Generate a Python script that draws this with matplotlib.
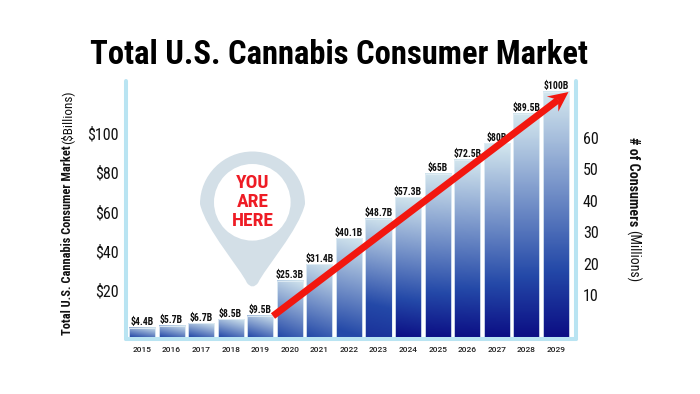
import numpy as np
import matplotlib
matplotlib.use('Agg')
from matplotlib import pyplot as plt
from matplotlib.colors import LinearSegmentedColormap, to_rgb
from matplotlib.patches import Circle, PathPatch, Polygon
from matplotlib.path import Path

years = [2015, 2016, 2017, 2018, 2019, 2020, 2021, 2022, 2023, 2024, 2025, 2026, 2027, 2028, 2029]
value_labels = ['$4.4B', '$5.7B', '$6.7B', '$8.5B', '$9.5B', '$25.3B', '$31.4B', '$40.1B',
                '$48.7B', '$57.3B', '$65B', '$72.5B', '$80B', '$89.5B', '$100B']
# heights as drawn in the picture, they do not follow the labels exactly
bar_heights = [3.7, 4.6, 5.6, 7.3, 8.7, 22.9, 29.7, 40.4, 48.2, 57.0, 66.6, 72.4, 79.0, 91.2, 100.2]

market_ticks = [20, 40, 60, 80, 100]
market_labels = ['$20', '$40', '$60', '$80', '$100']
consumer_ticks = [10, 20, 30, 40, 50, 60]

NARROW = ['Roboto Condensed', 'Roboto', 'DejaVu Sans']
W, H = 700, 394
BAND = '#b9e4f2'
TEXT = '#111111'
RED = '#f2170f'

fig = plt.figure(figsize=(W / 100, H / 100), dpi=100)

# axes box in pixels
left, right, top, bottom = 126, 576, 81, 339
box = [left / W, 1 - bottom / H, (right - left) / W, (bottom - top) / H]

ax = fig.add_axes(box)
ax.set_xlim(2014.46, 2029.68)
ax.set_ylim(-0.82, 104.5)
ax.spines['top'].set_visible(False)
for side in ['left', 'right', 'bottom']:
    ax.spines[side].set_color(BAND)
    ax.spines[side].set_linewidth(2.9)
    ax.spines[side].set_capstyle('round')
ax.set_yticks([])
ax.set_xticks(years)
ax.set_xticklabels(years, fontsize=6, color='#222222', fontfamily='Roboto', fontweight='medium')
ax.tick_params(axis='x', length=0, pad=5.5)

light = np.array(to_rgb('#d3e6ee'))
mid = np.array(to_rgb('#2449a8'))
deep = np.array(to_rgb('#0c0f85'))

xlim, ylim = ax.get_xlim(), ax.get_ylim()
bars = ax.bar(years, bar_heights, width=0.88, facecolor='none', edgecolor='#e2eef5', linewidth=0.6, zorder=2.5)
for bar, label in zip(bars, value_labels):
    x0, w, h = bar.get_x(), bar.get_width(), bar.get_height()
    # tall bars run on into navy at the foot, short ones stop at mid blue
    f = h / 100
    low = mid + (deep - mid) * np.clip((f - 0.42) / 0.15, 0, 1)
    p = max(0.001, 0.27 * np.clip((f - 0.38) / 0.1, 0, 1))
    cmap = LinearSegmentedColormap.from_list('bar', [(0, low), (p, mid), (1, light)])
    gy, gx = np.mgrid[0:1:80j, 0:1:20j]
    tilt = 0.35 * (1 - f) ** 3
    grad = gy * (1 - tilt) + gx * tilt
    ax.imshow(grad, origin='lower', extent=[x0, x0 + w, 0, h], cmap=cmap, vmin=0, vmax=1,
              aspect='auto', zorder=2, interpolation='bilinear')
    ax.text(x0 + w / 2, h + 1.0, label, ha='center', va='baseline', fontsize=7, color=TEXT,
            fontfamily=NARROW, fontweight='bold', zorder=3)
ax.set_xlim(xlim)
ax.set_ylim(ylim)

# left and right scales are not tied to the bars in the source
ax_left = ax.twinx()
ax_left.set_ylim(-4.9, 126.7)
ax_left.yaxis.tick_left()
ax_left.set_yticks(market_ticks)
ax_left.set_yticklabels(market_labels, fontsize=11.5, color=TEXT, fontfamily=NARROW)
ax_left.tick_params(axis='y', length=0, pad=5.5)

ax_right = ax.twinx()
ax_right.set_ylim(-3.97, 78)
ax_right.set_yticks(consumer_ticks)
ax_right.set_yticklabels(consumer_ticks, fontsize=11.5, color=TEXT, fontfamily=NARROW)
ax_right.tick_params(axis='y', length=0, pad=5)

for a in [ax_left, ax_right]:
    for s in a.spines.values():
        s.set_visible(False)

# overlay in pixel coordinates for title, pin and arrow
ov = fig.add_axes([0, 0, 1, 1], zorder=5)
ov.set_xlim(0, W)
ov.set_ylim(H, 0)
ov.axis('off')

ov.text(338.5, 55, 'Total U.S. Cannabis Consumer Market', ha='center', va='center', fontsize=23.5,
        fontweight='bold', fontfamily=NARROW, color='#000000')

ov.text(67.5, 335, 'Total U.S. Cannabis Consumer Market', rotation=90, ha='center', va='bottom',
        fontsize=8.9, fontweight='bold', fontfamily=NARROW, color=TEXT)
ov.text(67.5, 144, '($Billions)', rotation=90, ha='center', va='bottom',
        fontsize=9.5, fontfamily=NARROW, color=TEXT)
ov.text(633, 137, '# of Consumers', rotation=270, ha='center', va='top',
        fontsize=10.2, fontweight='bold', fontfamily=NARROW, color=TEXT)
ov.text(633, 230, '(Millions)', rotation=270, ha='center', va='top',
        fontsize=10, fontfamily=NARROW, color=TEXT)

# location pin
cx, cy, r = 252.5, 204, 52.5
k = 0.5523 * r
verts = [(247, 283), (240, 268), (cx - r + 6, 230), (cx - r, cy),
         (cx - r, cy - k), (cx - k, cy - r), (cx, cy - r),
         (cx + k, cy - r), (cx + r, cy - k), (cx + r, cy),
         (cx + r - 6, 230), (265, 268), (258, 283),
         (252.5, 290), (247, 283), (247, 283)]
codes = [Path.MOVETO] + [Path.CURVE4] * 12 + [Path.CURVE3, Path.CURVE3, Path.CLOSEPOLY]
ov.add_patch(PathPatch(Path(verts, codes), facecolor='#d3dfe7', edgecolor='none'))
ov.add_patch(Circle((252.3, 202.3), 38.3, facecolor='white', edgecolor='none'))
for yy, word in zip([183, 202, 221], ['YOU', 'ARE', 'HERE']):
    ov.text(252.5, yy, word, ha='center', va='center', fontsize=14, fontweight='bold',
            fontfamily=NARROW, color='#ee1c25')

# trend arrow
start = np.array([273.0, 316.0])
tip = np.array([568.5, 92.0])
u = (tip - start) / np.linalg.norm(tip - start)
n = np.array([-u[1], u[0]])
neck = tip - u * 13
ov.plot([start[0], neck[0]], [start[1], neck[1]], color=RED, lw=5, solid_capstyle='butt')
ov.add_patch(Polygon([tip, tip - u * 20 + n * 9.5, neck, tip - u * 20 - n * 9.5],
                     closed=True, facecolor=RED, edgecolor='none'))

fig.savefig('out.png', dpi=100)
